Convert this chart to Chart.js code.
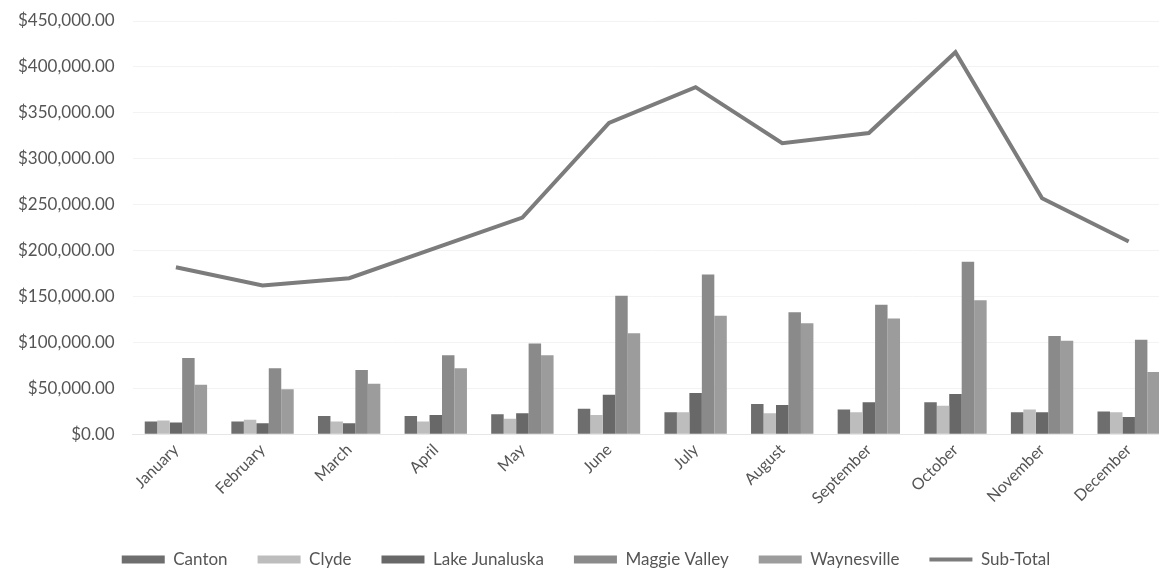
<!DOCTYPE html>
<html>
<head>
<meta charset="utf-8">
<script src="https://cdn.jsdelivr.net/npm/chart.js@4/dist/chart.umd.min.js"></script>
<style>
  html, body { margin: 0; padding: 0; background: #fff; overflow: hidden; }
  #wrap { width: 1172px; height: 572px; }
</style>
</head>
<body>
<div id="wrap"><canvas id="chart"></canvas></div>
<script>
const months = ['January', 'February', 'March', 'April', 'May', 'June',
    'July', 'August', 'September', 'October', 'November', 'December'];

const canton = [14000, 14000, 20000, 20000, 22000, 28000, 24000, 33000, 27000, 35000, 24000, 25000];
const clyde = [15000, 16000, 14000, 14000, 17000, 21000, 24000, 23000, 24000, 31000, 27000, 24000];
const lakeJunaluska = [13000, 12000, 12000, 21000, 23000, 43000, 45000, 32000, 35000, 44000, 24000, 19000];
const maggieValley = [83000, 72000, 70000, 86000, 99000, 151000, 174000, 133000, 141000, 188000, 107000, 103000];
const waynesville = [54000, 49000, 55000, 72000, 86000, 110000, 129000, 121000, 126000, 146000, 102000, 68000];
const subTotal = [182000, 162000, 170000, 203000, 236000, 339000, 378000, 317000, 328000, 416000, 257000, 210000];

const yMax = 450000;
const yStep = 50000;

function barSet(label, data, color) {
    return {
        type: 'bar',
        label: label,
        data: data,
        backgroundColor: color,
        borderWidth: 0,
        pointStyle: 'rect'
    };
}

const ctx = document.getElementById('chart').getContext('2d');
new Chart(ctx, {
    data: {
        labels: months,
        datasets: [
            barSet('Canton', canton, '#6e6e6e'),
            barSet('Clyde', clyde, '#bdbdbd'),
            barSet('Lake Junaluska', lakeJunaluska, '#686868'),
            barSet('Maggie Valley', maggieValley, '#8a8a8a'),
            barSet('Waynesville', waynesville, '#9c9c9c'),
            {
                type: 'line',
                label: 'Sub-Total',
                data: subTotal,
                borderColor: '#7c7c7c',
                backgroundColor: '#7c7c7c',
                borderWidth: 4,
                pointRadius: 0,
                pointStyle: 'line',
                tension: 0
            }
        ]
    },
    options: {
        responsive: true,
        maintainAspectRatio: false,
        animation: false,
        layout: { padding: { top: 0, left: 0, right: 0, bottom: -6 } },
        datasets: {
            bar: { categoryPercentage: 0.72, barPercentage: 1.0 }
        },
        plugins: {
            legend: {
                position: 'bottom',
                labels: {
                    usePointStyle: true,
                    pointStyleWidth: 43,
                    boxHeight: 8,
                    padding: 30,
                    color: '#555',
                    font: { family: 'Lato', size: 17 },
                    sort: (a, b) => a.datasetIndex - b.datasetIndex
                }
            },
            tooltip: { enabled: false }
        },
        scales: {
            x: {
                grid: { display: false, drawTicks: false },
                border: { color: '#e6e6e6' },
                ticks: {
                    minRotation: 45,
                    maxRotation: 45,
                    padding: 6,
                    color: '#555',
                    font: { family: 'Lato', size: 16 }
                },
                // leave a gap between the month labels and the legend
                afterFit: scale => { scale.height += 7; }
            },
            y: {
                min: 0,
                max: yMax,
                grid: { color: '#f3f3f3', drawTicks: false },
                border: { display: false },
                ticks: {
                    stepSize: yStep,
                    padding: 18,
                    color: '#555',
                    font: { family: 'Lato', size: 17 },
                    callback: v => '$' + v.toLocaleString('en-US', { minimumFractionDigits: 2, maximumFractionDigits: 2 })
                },
                afterFit: scale => { scale.paddingTop = 21; }
            }
        }
    }
});
</script>
</body>
</html>
